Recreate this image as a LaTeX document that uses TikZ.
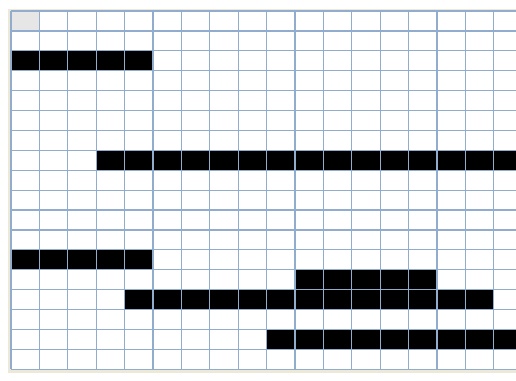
\documentclass[tikz,border=0pt]{standalone}
\begin{document}
\begin{tikzpicture}[x=1pt,y=-1pt]
\definecolor{gridc}{RGB}{146,172,205}
\definecolor{framec}{RGB}{236,233,216}
\definecolor{cellgray}{RGB}{230,230,230}
\tikzset{bar/.style={fill=black}, gridline/.style={draw=gridc,line width=1.2pt}}
\useasboundingbox (0,0) rectangle (516,380);
\fill[white] (0,0) rectangle (516,380);
\fill[framec] (8,9) rectangle (516,373);
\fill[white] (11,11) rectangle (516,369.2);
\fill[cellgray] (11,11) rectangle (39.4,30.9);
% bars
\fill[bar] (11,50.8) rectangle (153,70.7);
\fill[bar] (96.2,150.3) rectangle (516,170.2);
\fill[bar] (11,249.8) rectangle (153,269.7);
\fill[bar] (295,269.7) rectangle (437,289.6);
\fill[bar] (124.6,289.6) rectangle (493.8,309.5);
\fill[bar] (266.6,329.4) rectangle (516,349.3);
% grid
\foreach \k in {0,...,17}
  \draw[gridline] ({11+28.4*\k},11) -- ({11+28.4*\k},369.2);
\foreach \r in {0,...,18}
  \draw[gridline] (11,{11+19.9*\r}) -- (516,{11+19.9*\r});
\end{tikzpicture}
\end{document}
